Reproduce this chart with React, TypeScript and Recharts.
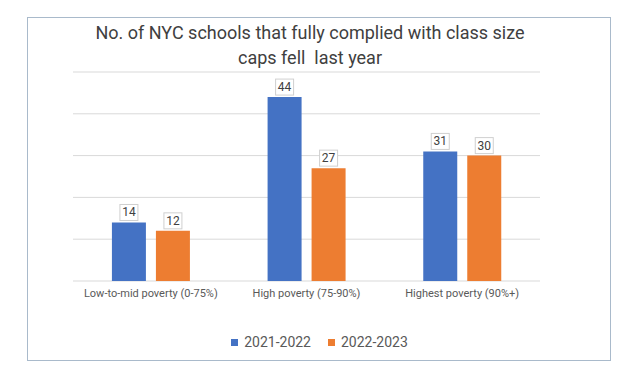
import { Bar, BarChart, CartesianGrid, LabelList, Legend, XAxis, YAxis } from "recharts";

// values
const categories = [
  "Low-to-mid poverty (0-75%)",
  "High poverty (75-90%)",
  "Highest poverty (90%+)",
];
const values2122 = [14, 44, 31];
const values2223 = [12, 27, 30];
const yTicks = [0, 10, 20, 30, 40, 50];

const titleLines = [
  "No. of NYC schools that fully complied with class size",
  "caps fell  last year",
];

const FONT = "Roboto, 'Noto Sans', sans-serif";
const BLUE = "#4472c4";
const ORANGE = "#ed7d31";

const data = categories.map((name, i) => ({
  name,
  a: values2122[i],
  b: values2223[i],
}));

// boxed data label sitting just above the bar
function BoxLabel(props: any) {
  const { x, y, width, value } = props;
  const cx = x + width / 2;
  const w = String(value).length * 7 + 4;
  const h = 16;
  return (
    <g>
      <rect
        x={cx - w / 2}
        y={y - h - 2}
        width={w}
        height={h}
        fill="#fff"
        stroke="#d0d0d0"
        strokeWidth={1}
      />
      <text
        x={cx}
        y={y - 6}
        textAnchor="middle"
        fontSize={12}
        fill="#404040"
        fontFamily={FONT}
      >
        {value}
      </text>
    </g>
  );
}

function LegendContent() {
  const items = [
    { label: "2021-2022", color: BLUE },
    { label: "2022-2023", color: ORANGE },
  ];
  return (
    <div style={{ display: "flex", justifyContent: "center", gap: 17, fontFamily: FONT }}>
      {items.map((it) => (
        <div key={it.label} style={{ display: "flex", alignItems: "center", gap: 6 }}>
          <span style={{ width: 7, height: 7, background: it.color, display: "inline-block" }} />
          <span style={{ fontSize: 14, color: "#595959" }}>{it.label}</span>
        </div>
      ))}
    </div>
  );
}

export default function App() {
  return (
    <div style={{ position: "absolute", left: 0, top: 0, width: 639, height: 380, background: "#fff" }}>
      <div
        style={{
          position: "absolute",
          left: 27,
          top: 17,
          width: 582,
          height: 342,
          border: "1px solid #a9bacb",
        }}
      />
      <div
        style={{
          position: "absolute",
          left: 0,
          top: 20,
          width: 620,
          textAlign: "center",
          fontFamily: FONT,
          fontSize: 18,
          lineHeight: "25px",
          color: "#404040",
          whiteSpace: "pre",
        }}
      >
        {titleLines.map((l) => (
          <div key={l}>{l}</div>
        ))}
      </div>
      <div style={{ position: "absolute", left: 0, top: 0 }}>
        <BarChart
          width={639}
          height={380}
          data={data}
          margin={{ top: 72, right: 99, left: 73, bottom: 53 }}
          barCategoryGap="25%"
          barGap={10}
        >
          <CartesianGrid vertical={false} stroke="#d9d9d9" />
          <XAxis
            dataKey="name"
            axisLine={false}
            tickLine={false}
            tick={{ fill: "#595959", fontSize: 11, fontFamily: FONT }}
            interval={0}
          />
          <YAxis hide domain={[0, 50]} ticks={yTicks} />
          <Legend
            content={<LegendContent />}
            wrapperStyle={{ position: "absolute", top: 334, left: 0, width: 639 }}
          />
          <Bar dataKey="a" name="2021-2022" fill={BLUE} isAnimationActive={false}>
            <LabelList dataKey="a" content={<BoxLabel />} />
          </Bar>
          <Bar dataKey="b" name="2022-2023" fill={ORANGE} isAnimationActive={false}>
            <LabelList dataKey="b" content={<BoxLabel />} />
          </Bar>
        </BarChart>
      </div>
    </div>
  );
}
